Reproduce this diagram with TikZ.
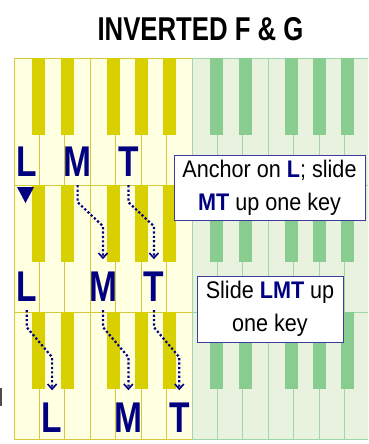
\documentclass[tikz,border=0pt]{standalone}
\usepackage{fontspec}
\setmainfont{Liberation Sans}
\newfontfamily\narrowfont[FakeStretch=0.78]{Liberation Sans}
\newfontfamily\notefont[FakeStretch=0.9]{Liberation Sans}
\usetikzlibrary{arrows.meta,calc}

\definecolor{navy}{RGB}{0,0,128}
\definecolor{ykey}{RGB}{255,255,226}
\definecolor{yedge}{RGB}{212,202,60}
\definecolor{yblackkey}{RGB}{216,208,0}
\definecolor{gkey}{RGB}{232,242,222}
\definecolor{gedge}{RGB}{158,216,170}
\definecolor{gblackkey}{RGB}{136,204,144}
\definecolor{noteedge}{RGB}{60,60,156}

\newcommand{\keyname}[1]{\textcolor{navy}{\bfseries #1}}

\begin{document}
\begin{tikzpicture}[
  x=1pt, y=-1pt,
  every node/.style={inner sep=0pt},
  ywhite/.style={fill=ykey, draw=yedge, line width=0.9pt},
  yblack/.style={fill=yblackkey},
  gwhite/.style={fill=gkey, draw=gedge, line width=0.9pt},
  gblack/.style={fill=gblackkey},
  title/.style={anchor=base, font=\narrowfont\bfseries\fontsize{33}{33}\selectfont},
  letter/.style={anchor=base, text=navy, font=\narrowfont\bfseries\fontsize{43}{43}\selectfont},
  note/.style={draw=noteedge, fill=white, line width=1pt, align=center,
    font=\notefont\fontsize{24}{33}\selectfont},
  slide/.style={draw=navy, line width=2.2pt, dash pattern=on 2.2pt off 2.2pt,
    -{Straight Barb[length=5pt, width=9pt, line width=1.6pt]}, shorten <=9pt, shorten >=12pt,
    to path={-- ($(\tikztostart)+(0,26)$) -- ($(\tikztotarget)+(0,-45)$) -- (\tikztotarget)}}]

  \useasboundingbox (0,0) rectangle (368,444);

  % ---- keyboards ----------------------------------------------------------
  \begin{scope}
    \clip (0,0) rectangle (368,444);
    \foreach \y in {58,185,312} {
      \foreach \k in {0,...,6}
        \draw[ywhite] ({14+\k*25.43},\y) rectangle ++(25.43,127);
      \foreach \b in {18,47,93,121,149}
        \fill[yblack] ({14+\b},\y) rectangle ++(13,77);
      \foreach \k in {7,...,13}
        \draw[gwhite] ({14+\k*25.43},\y) rectangle ++(25.43,127);
      \foreach \b in {18,47,93,121,149}
        \fill[gblack] ({192+\b},\y) rectangle ++(13,77);
    }
  \end{scope}
  \fill[gray!60!black] (0,388) rectangle (1.5,406);

  % ---- title --------------------------------------------------------------
  \node[title] (head) at (200.5,41) {INVERTED F \& G};

  % ---- fingers ------------------------------------------------------------
  \node[letter] (L1) at (26.7,176) {L};
  \node[letter] (M1) at (77.6,176) {M};
  \node[letter] (T1) at (128.4,176) {T};

  \node[letter] (L2) at (26.7,301) {L};
  \node[letter] (M2) at (103.0,301) {M};
  \node[letter] (T2) at (153.9,301) {T};

  \node[letter] (L3) at (52.1,432) {L};
  \node[letter] (M3) at (128.4,432) {M};
  \node[letter] (T3) at (179.3,432) {T};

  % anchor mark under the first L
  \fill[navy] (17,187) -- (34,187) -- (25.5,203) -- cycle;

  % ---- slides -------------------------------------------------------------
  \draw[slide] (M1.south) to (M2.north);
  \draw[slide] (T1.south) to (T2.north);
  \draw[slide] (L2.south) to (L3.north);
  \draw[slide] (M2.south) to (M3.north);
  \draw[slide] (T2.south) to (T3.north);

  % ---- notes --------------------------------------------------------------
  \node[note, minimum width=191, minimum height=65] (anchor) at (269.5,187.5)
    {Anchor on \keyname{L}; slide\\\keyname{MT} up one key};
  \node[note, minimum width=146, minimum height=66] (shift) at (270,309)
    {Slide \keyname{LMT} up\\one key};
\end{tikzpicture}
\end{document}
